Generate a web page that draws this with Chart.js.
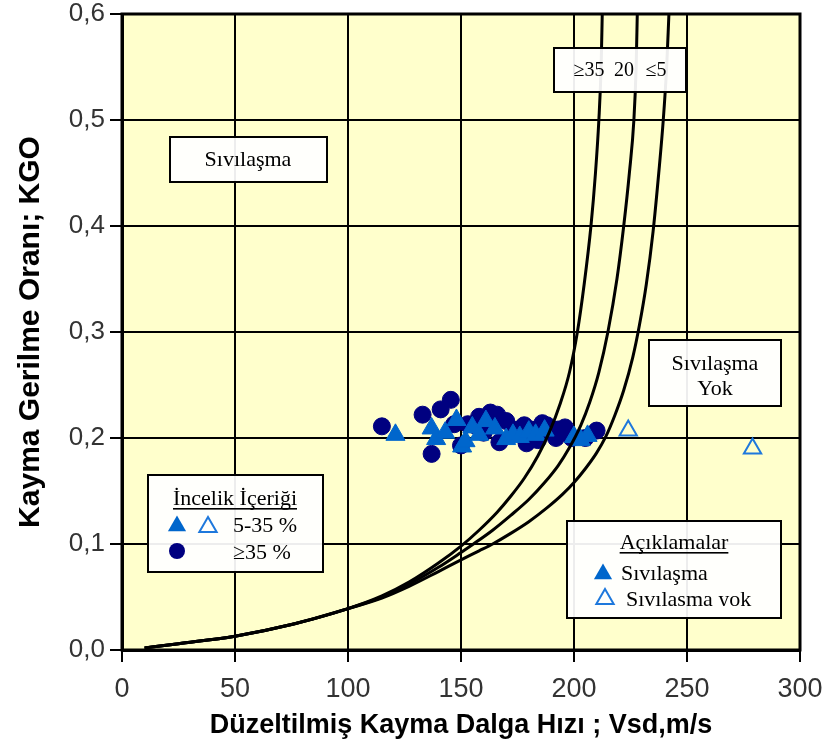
<!DOCTYPE html>
<html>
<head>
<meta charset="utf-8">
<script src="https://cdn.jsdelivr.net/npm/chart.js@4.4.0/dist/chart.umd.min.js"></script>
<style>
  html, body { margin: 0; padding: 0; background: #ffffff; }
  #wrap { width: 827px; height: 749px; }
</style>
</head>
<body>
<div id="wrap"><canvas id="c" width="827" height="749"></canvas></div>
<script>
// ---- Boundary curves (Vsd in m/s, KGO) for fines content >=35 %, 20 %, <=5 %
const curveFc35V = [10, 25, 50, 75, 100, 115, 127, 140, 150, 158, 166, 172, 178, 184, 189, 194, 198, 201.5, 204.5, 207.5, 209.5, 211, 212, 212.5];
const curveFc35K = [0.002, 0.006, 0.013, 0.024, 0.039, 0.051, 0.064, 0.082, 0.098, 0.113, 0.130, 0.145, 0.162, 0.183, 0.205, 0.233, 0.262, 0.300, 0.345, 0.400, 0.450, 0.500, 0.550, 0.600];

const curveFc20V = [10, 25, 50, 75, 100, 115, 127, 140, 150, 155.5, 164, 172, 180, 187, 193, 198, 203, 207, 211, 215, 219, 222, 224.5, 226.5, 227.5, 228];
const curveFc20K = [0.002, 0.006, 0.013, 0.024, 0.039, 0.050, 0.062, 0.078, 0.092, 0.100, 0.113, 0.127, 0.142, 0.158, 0.174, 0.191, 0.212, 0.234, 0.262, 0.300, 0.350, 0.400, 0.450, 0.500, 0.550, 0.600];

const curveFc5V = [10, 25, 50, 75, 100, 115, 127, 140, 150, 158, 164, 172, 180, 188, 195, 200, 205, 210, 214, 218, 222, 226, 229, 232, 235, 237.5, 239.5, 241, 242];
const curveFc5K = [0.002, 0.006, 0.013, 0.024, 0.039, 0.049, 0.060, 0.074, 0.085, 0.0935, 0.100, 0.110, 0.121, 0.134, 0.147, 0.158, 0.171, 0.186, 0.201, 0.221, 0.245, 0.276, 0.307, 0.345, 0.395, 0.450, 0.500, 0.550, 0.600];

// ---- Field cases
// fines content >= 35 %
const fine35V = [115, 133, 137, 141, 145.5, 147, 150, 153, 156, 158, 160, 163, 166, 167, 170, 174, 175, 178, 179, 181, 183, 184, 186, 188, 190, 192, 193, 196, 197, 199, 205, 210];
const fine35K = [0.211, 0.222, 0.185, 0.227, 0.236, 0.213, 0.193, 0.213, 0.212, 0.220, 0.205, 0.224, 0.222, 0.196, 0.216, 0.205, 0.208, 0.212, 0.195, 0.208, 0.205, 0.198, 0.214, 0.212, 0.209, 0.200, 0.208, 0.210, 0.205, 0.200, 0.200, 0.207];
// fines content 5-35 %, liquefied
const liqV = [121, 137, 139, 143, 148, 150.5, 152, 155, 158, 161, 165, 170, 173, 176, 180, 183, 187, 200, 203, 206];
const liqK = [0.203, 0.209, 0.199, 0.205, 0.217, 0.192, 0.197, 0.210, 0.203, 0.216, 0.209, 0.199, 0.203, 0.201, 0.206, 0.203, 0.207, 0.201, 0.198, 0.202];
// fines content 5-35 %, no liquefaction
const noLiqV = [224, 279];
const noLiqK = [0.207, 0.190];

// ---- Axis ticks
const xTicks = [0, 50, 100, 150, 200, 250, 300];
const yTicks = [0, 0.1, 0.2, 0.3, 0.4, 0.5, 0.6];
const yTickLabels = ['0,0', '0,1', '0,2', '0,3', '0,4', '0,5', '0,6'];

const toPts = (xs, ys) => xs.map((v, i) => ({ x: v, y: ys[i] }));

const NAVY = '#000080';
const BLUE = '#0066CC';
const OPEN_BLUE = '#1E78DC';
const SERIF = "'Liberation Serif', 'Times New Roman', serif";
const SANS = "'Liberation Sans', Arial, sans-serif";

function curve(xs, ys) {
  return {
    type: 'line', data: toPts(xs, ys), borderColor: '#000', borderWidth: 3,
    pointRadius: 0, fill: false, cubicInterpolationMode: 'monotone', order: 0
  };
}

function triPath(ctx, x, y, r) {
  ctx.beginPath();
  ctx.moveTo(x, y - r);
  ctx.lineTo(x + r * Math.sin(2 * Math.PI / 3), y + r * 0.5);
  ctx.lineTo(x - r * Math.sin(2 * Math.PI / 3), y + r * 0.5);
  ctx.closePath();
}

function noteBox(ctx, x1, y1, x2, y2) {
  ctx.fillStyle = 'rgba(255,255,255,0.93)';
  ctx.fillRect(x1, y1, x2 - x1, y2 - y1);
  ctx.strokeStyle = '#000';
  ctx.lineWidth = 2;
  ctx.strokeRect(x1, y1, x2 - x1, y2 - y1);
}

function underlined(ctx, text, cx, baseY) {
  ctx.textAlign = 'center';
  ctx.textBaseline = 'alphabetic';
  ctx.fillText(text, cx, baseY);
  const w = ctx.measureText(text).width;
  ctx.fillRect(cx - w / 2, baseY + 3, w, 1.6);
}

const backdrop = {
  id: 'backdrop',
  beforeDraw(chart) {
    const { ctx, chartArea: a } = chart;
    ctx.save();
    ctx.fillStyle = '#ffffff';
    ctx.fillRect(0, 0, chart.width, chart.height);
    ctx.fillStyle = '#FFFFCC';
    ctx.fillRect(a.left, a.top, a.right - a.left, a.bottom - a.top);
    ctx.restore();
  }
};

const notes = {
  id: 'notes',
  afterDatasetsDraw(chart) {
    const { ctx, chartArea: a } = chart;
    ctx.save();
    // plot frame
    ctx.strokeStyle = '#000';
    ctx.lineWidth = 3;
    ctx.strokeRect(a.left, a.top, a.right - a.left, a.bottom - a.top);

    // zone label: liquefaction
    noteBox(ctx, 170, 137, 327, 182);
    ctx.fillStyle = '#000';
    ctx.font = '22px ' + SERIF;
    ctx.textAlign = 'center';
    ctx.textBaseline = 'middle';
    ctx.fillText('Sıvılaşma', 248, 160);

    // curve labels
    noteBox(ctx, 554, 48, 686, 92);
    ctx.fillStyle = '#000';
    ctx.font = '20px ' + SERIF;
    ctx.fillText('≥35', 589, 71);
    ctx.fillText('20', 624, 71);
    ctx.fillText('≤5', 656, 71);

    // zone label: no liquefaction
    noteBox(ctx, 649, 340, 781, 406);
    ctx.fillStyle = '#000';
    ctx.font = '22px ' + SERIF;
    ctx.textBaseline = 'alphabetic';
    ctx.fillText('Sıvılaşma', 715, 370);
    ctx.fillText('Yok', 715, 395);

    // fines content key
    noteBox(ctx, 148, 475, 323, 572);
    ctx.fillStyle = '#000';
    ctx.font = '22px ' + SERIF;
    underlined(ctx, 'İncelik İçeriği', 235, 505);
    ctx.fillStyle = BLUE;
    triPath(ctx, 177, 526, 10.5); ctx.fill();
    ctx.strokeStyle = OPEN_BLUE; ctx.lineWidth = 2;
    triPath(ctx, 208, 527, 10); ctx.stroke();
    ctx.fillStyle = NAVY;
    ctx.beginPath(); ctx.arc(177, 551, 8, 0, Math.PI * 2); ctx.fill();
    ctx.fillStyle = '#000';
    ctx.font = '22px ' + SERIF;
    ctx.textAlign = 'left';
    ctx.textBaseline = 'middle';
    ctx.fillText('5-35 %', 233, 526);
    ctx.fillText('≥35 %', 233, 553);

    // legend of outcomes
    noteBox(ctx, 567, 521, 781, 618);
    ctx.fillStyle = '#000';
    ctx.font = '22px ' + SERIF;
    underlined(ctx, 'Açıklamalar', 674, 549);
    ctx.fillStyle = BLUE;
    triPath(ctx, 603, 574, 10.5); ctx.fill();
    ctx.strokeStyle = OPEN_BLUE; ctx.lineWidth = 2;
    triPath(ctx, 605, 599, 10); ctx.stroke();
    ctx.fillStyle = '#000';
    ctx.font = '22px ' + SERIF;
    ctx.textAlign = 'left';
    ctx.textBaseline = 'alphabetic';
    ctx.fillText('Sıvılaşma', 621, 580);
    ctx.save();
    ctx.beginPath(); ctx.rect(568, 585, 212, 21); ctx.clip();
    ctx.fillText('Sıvılaşma yok', 626, 606);
    ctx.restore();

    ctx.restore();
  }
};

const chart = new Chart(document.getElementById('c'), {
  type: 'scatter',
  data: {
    datasets: [
      curve(curveFc35V, curveFc35K),
      curve(curveFc20V, curveFc20K),
      curve(curveFc5V, curveFc5K),
      {
        label: '5-35 % Sıvılaşma', data: toPts(liqV, liqK), pointStyle: 'triangle',
        pointRadius: 11, backgroundColor: BLUE, borderColor: BLUE, borderWidth: 1, order: 1
      },
      {
        label: '5-35 % Sıvılaşma yok', data: toPts(noLiqV, noLiqK), pointStyle: 'triangle',
        pointRadius: 10, backgroundColor: 'rgba(0,0,0,0)', borderColor: OPEN_BLUE, borderWidth: 2, order: 1
      },
      {
        label: '≥35 %', data: toPts(fine35V, fine35K), pointStyle: 'circle',
        pointRadius: 8.5, backgroundColor: NAVY, borderColor: NAVY, borderWidth: 1, order: 2
      }
    ]
  },
  options: {
    responsive: false,
    animation: false,
    devicePixelRatio: 1,
    layout: { padding: { left: 13, top: 14, right: 27, bottom: 7 } },
    plugins: { legend: { display: false }, tooltip: { enabled: false } },
    scales: {
      x: {
        type: 'linear', min: 0, max: 300,
        afterBuildTicks: s => { s.ticks = xTicks.map(v => ({ value: v })); },
        afterFit: s => { s.height = 92; s.paddingLeft = 0; s.paddingRight = 0; },
        ticks: { color: '#333', font: { family: SANS, size: 27 }, padding: 11, maxRotation: 0 },
        grid: { color: '#000', lineWidth: 2, tickLength: 12 },
        border: { color: '#000', width: 3 },
        title: {
          display: true, text: 'Düzeltilmiş Kayma Dalga Hızı ; Vsd,m/s', color: '#000',
          font: { family: SANS, size: 27, weight: 'bold' }, padding: 0
        }
      },
      y: {
        type: 'linear', min: 0, max: 0.6,
        afterBuildTicks: s => { s.ticks = yTicks.map(v => ({ value: v })); },
        afterFit: s => { s.width = 109; s.paddingTop = 0; s.paddingBottom = 0; },
        ticks: {
          color: '#333', font: { family: SANS, size: 26 }, padding: 5,
          callback: v => yTickLabels[yTicks.findIndex(t => Math.abs(t - v) < 1e-9)]
        },
        grid: { color: '#000', lineWidth: 2, tickLength: 12 },
        border: { color: '#000', width: 3 },
        title: {
          display: true, text: 'Kayma Gerilme Oranı; KGO', color: '#000',
          font: { family: SANS, size: 30, weight: 'bold' }, padding: 0
        }
      }
    }
  },
  plugins: [backdrop, notes]
});
</script>
</body>
</html>
